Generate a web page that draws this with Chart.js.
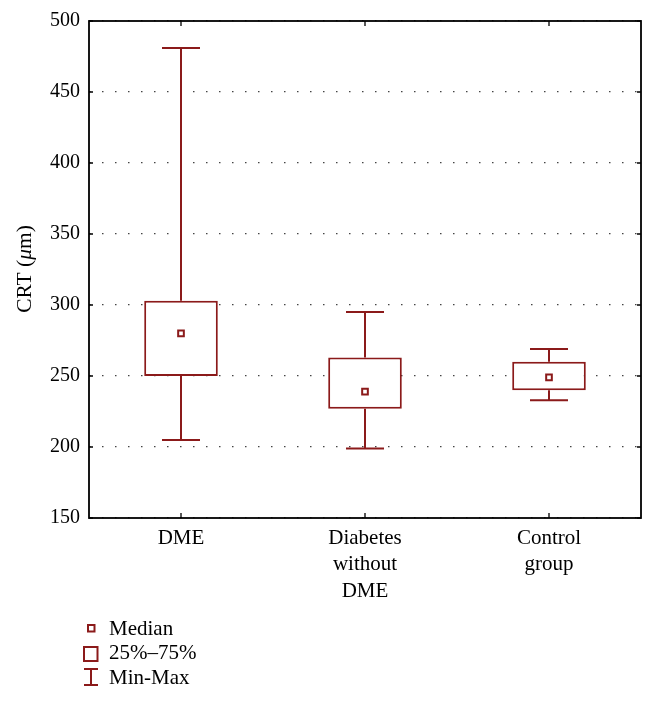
<!DOCTYPE html>
<html>
<head>
<meta charset="utf-8">
<script src="https://cdn.jsdelivr.net/npm/chart.js@4"></script>
<style>
  body { margin: 0; background: #fff; }
</style>
</head>
<body>
<canvas id="crtChart" width="651" height="701"></canvas>
<script>
const categories = ['DME', ['Diabetes', 'without', 'DME'], ['Control', 'group']];
const minVals = [205, 199, 233];
const q1Vals = [250, 227, 240];
const medianVals = [280, 239, 249];
const q3Vals = [303, 263, 260];
const maxVals = [481, 295, 269];
const yTicks = [150, 200, 250, 300, 350, 400, 450, 500];

const red = '#8b1a1a';
const serif = '"Liberation Serif", "DejaVu Serif", serif';

// whiskers under the boxes
const whiskers = {
    id: 'whiskers',
    beforeDatasetsDraw(chart) {
        const { ctx, scales: { x, y } } = chart;
        const cap = 19;
        ctx.save();
        ctx.strokeStyle = red;
        ctx.lineWidth = 2;
        categories.forEach((c, i) => {
            const cx = x.getPixelForValue(i);
            const top = y.getPixelForValue(maxVals[i]);
            const bot = y.getPixelForValue(minVals[i]);
            ctx.beginPath();
            ctx.moveTo(cx, top); ctx.lineTo(cx, y.getPixelForValue(q3Vals[i]));
            ctx.moveTo(cx, y.getPixelForValue(q1Vals[i])); ctx.lineTo(cx, bot);
            ctx.moveTo(cx - cap, top); ctx.lineTo(cx + cap, top);
            ctx.moveTo(cx - cap, bot); ctx.lineTo(cx + cap, bot);
            ctx.stroke();
        });
        ctx.restore();
    }
};

// frame, inward ticks, y title and legend
const frame = {
    id: 'frame',
    afterDraw(chart) {
        const { ctx, chartArea: a, scales: { x, y } } = chart;
        ctx.save();
        ctx.strokeStyle = '#000';
        ctx.lineWidth = 1.8;
        ctx.strokeRect(a.left, a.top, a.right - a.left, a.bottom - a.top);
        ctx.lineWidth = 1.3;
        ctx.beginPath();
        categories.forEach((c, i) => {
            const px = x.getPixelForValue(i);
            ctx.moveTo(px, a.bottom); ctx.lineTo(px, a.bottom - 5);
            ctx.moveTo(px, a.top); ctx.lineTo(px, a.top + 5);
        });
        yTicks.forEach(v => {
            const py = y.getPixelForValue(v);
            ctx.moveTo(a.left, py); ctx.lineTo(a.left + 4, py);
            ctx.moveTo(a.right, py); ctx.lineTo(a.right - 4, py);
        });
        ctx.stroke();

        // y axis title with italic mu
        ctx.translate(25, 269);
        ctx.rotate(-Math.PI / 2);
        ctx.fillStyle = '#000';
        ctx.textBaseline = 'middle';
        const f = '21.5px ' + serif;
        const parts = [['CRT (', f], ['μ', 'italic ' + f], ['m)', f]];
        let w = 0;
        parts.forEach(p => { ctx.font = p[1]; w += ctx.measureText(p[0]).width; });
        let tx = -w / 2;
        parts.forEach(p => {
            ctx.font = p[1];
            ctx.fillText(p[0], tx, 0);
            tx += ctx.measureText(p[0]).width;
        });
        ctx.setTransform(1, 0, 0, 1, 0, 0);

        // legend
        ctx.strokeStyle = red;
        ctx.lineWidth = 2;
        ctx.strokeRect(88, 625, 6.5, 6.5);
        ctx.strokeRect(84, 647, 13.5, 14);
        ctx.beginPath();
        ctx.moveTo(84, 669); ctx.lineTo(98, 669);
        ctx.moveTo(91, 669); ctx.lineTo(91, 685);
        ctx.moveTo(84, 685); ctx.lineTo(98, 685);
        ctx.stroke();
        ctx.fillStyle = '#000';
        ctx.font = '21px ' + serif;
        ctx.textBaseline = 'middle';
        ctx.fillText('Median', 109, 629);
        ctx.fillText('25%\u201375%', 109, 653);
        ctx.fillText('Min-Max', 109, 678);
        ctx.restore();
    }
};

new Chart(document.getElementById('crtChart'), {
    data: {
        labels: categories,
        datasets: [{
            type: 'line',
            label: 'Median',
            data: medianVals,
            showLine: false,
            pointStyle: 'rect',
            pointRadius: 4,
            pointBorderWidth: 2,
            pointBackgroundColor: '#fff',
            pointBorderColor: red
        }, {
            type: 'bar',
            label: '25%-75%',
            data: q1Vals.map((q, i) => [q, q3Vals[i]]),
            backgroundColor: '#fff',
            borderColor: red,
            borderWidth: 2,
            borderSkipped: false,
            categoryPercentage: 1,
            barPercentage: 0.40
        }]
    },
    options: {
        responsive: false,
        animation: false,
        layout: { padding: { top: 17, right: 10, left: 0, bottom: 0 } },
        plugins: { legend: { display: false }, tooltip: { enabled: false } },
        scales: {
            x: {
                grid: { display: false, drawTicks: false },
                border: { display: false },
                ticks: { color: '#000', padding: 7, font: { family: serif, size: 21, lineHeight: 1.26 } },
                afterFit(scale) { scale.height = 183; }
            },
            y: {
                min: 150,
                max: 500,
                grid: { color: '#444', lineWidth: 1.2, drawTicks: false },
                border: { display: false, dash: [1.5, 11.5] },
                ticks: { stepSize: 50, color: '#000', padding: 9, font: { family: serif, size: 20 } },
                afterFit(scale) { scale.width = 89; }
            }
        }
    },
    plugins: [whiskers, frame]
});
</script>
</body>
</html>
